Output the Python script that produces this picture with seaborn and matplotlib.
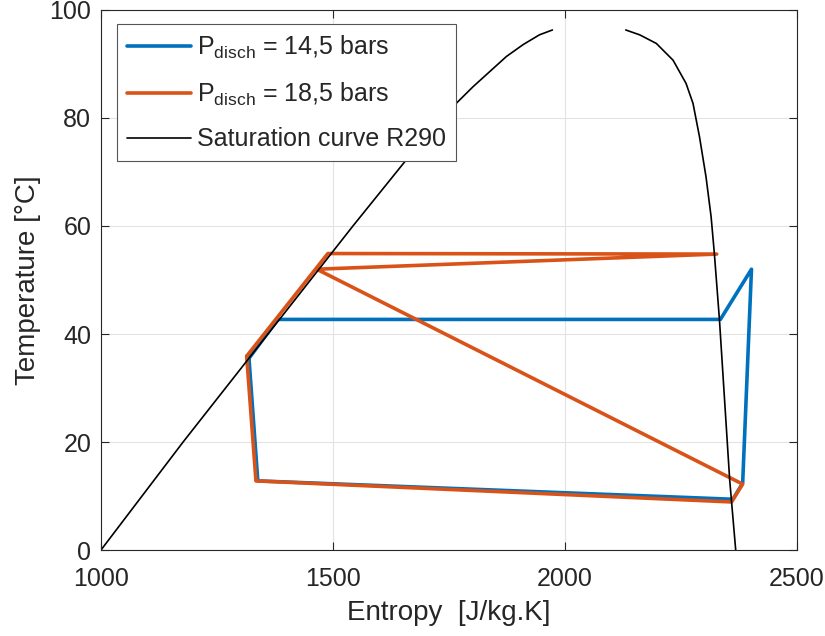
import numpy as np
import pandas as pd
import matplotlib
matplotlib.use("Agg")
import matplotlib.pyplot as plt
import seaborn as sns

# Cycle at P_disch = 14,5 bars (entropy J/kg.K, temperature °C)
s_145 = [1319, 1338, 2362, 2383, 2402, 2335, 1381, 1319]
t_145 = [35.5, 12.8, 9.4, 12.4, 52.0, 42.7, 42.7, 35.5]

# Cycle at P_disch = 18,5 bars
s_185 = [1314, 1334, 2359, 2383, 1465, 2327, 1489, 1314]
t_185 = [35.9, 12.8, 8.9, 12.2, 52.0, 54.8, 54.9, 35.9]

# Saturation curve R290 (liquid branch, vapour branch)
s_liq = [1000, 1177, 1360, 1543, 1666, 1739, 1762, 1802, 1838, 1874, 1910, 1945, 1973]
t_liq = [0.0, 20.0, 40.0, 60.0, 73.1, 80.0, 82.4, 85.8, 88.6, 91.4, 93.6, 95.4, 96.3]
s_vap = [2131, 2161, 2197, 2233, 2261, 2276, 2290, 2304, 2315, 2322, 2333, 2344, 2355, 2368]
t_vap = [96.3, 95.4, 93.8, 90.7, 86.4, 82.7, 76.5, 69.1, 61.7, 54.9, 42.6, 27.8, 13.0, 0.0]

labels = [r"P$_{\mathrm{disch}}$ = 14,5 bars",
          r"P$_{\mathrm{disch}}$ = 18,5 bars",
          "Saturation curve R290"]

sns.set_theme(style="whitegrid")
plt.rcParams["font.family"] = ["Liberation Sans", "DejaVu Sans"]
plt.rcParams["mathtext.fontset"] = "custom"
plt.rcParams["mathtext.rm"] = "Liberation Sans"
plt.rcParams["mathtext.default"] = "regular"

fig = plt.figure(figsize=(8.25, 6.36), dpi=100)
ax = fig.add_axes([0.1224, 0.1352, 0.8436, 0.8491])

df1 = pd.DataFrame({"s": s_145, "t": t_145})
df2 = pd.DataFrame({"s": s_185, "t": t_185})
dl = pd.DataFrame({"s": s_liq, "t": t_liq})
dv = pd.DataFrame({"s": s_vap, "t": t_vap})

blue = "#0072BD"
orange = "#D95319"

sns.lineplot(data=df1, x="s", y="t", sort=False, estimator=None, color=blue,
             linewidth=2.6, ax=ax, label=labels[0])
sns.lineplot(data=df2, x="s", y="t", sort=False, estimator=None, color=orange,
             linewidth=2.6, ax=ax, label=labels[1])
sns.lineplot(data=dl, x="s", y="t", sort=False, estimator=None, color="black",
             linewidth=1.2, ax=ax, label=labels[2])
sns.lineplot(data=dv, x="s", y="t", sort=False, estimator=None, color="black",
             linewidth=1.2, ax=ax)

ax.set_xlim(1000, 2500)
ax.set_ylim(0, 100)
ax.set_xticks([1000, 1500, 2000, 2500])
ax.set_yticks([0, 20, 40, 60, 80, 100])
ax.set_xlabel("Entropy  [J/kg.K]", fontsize=20, color="#262626", labelpad=7)
ax.set_ylabel("Temperature [°C]", fontsize=20, color="#262626", labelpad=6)
ax.tick_params(axis="x", pad=12)
ax.tick_params(axis="y", pad=7)
ax.tick_params(axis="both", labelsize=18, colors="#262626", direction="in",
               length=6, width=0.8, left=True, bottom=True, top=True, right=True)
ax.grid(True, color="#e3e3e3", linewidth=0.8)
for sp in ax.spines.values():
    sp.set_color("#262626")
    sp.set_linewidth(0.8)
ax.set_facecolor("white")

leg = ax.legend(loc="upper left", bbox_to_anchor=(0.023, 0.974), borderaxespad=0,
                fontsize=18, handlelength=2.55, handletextpad=0.25, borderpad=0.4,
                labelspacing=0.78, frameon=True, fancybox=False, framealpha=1)
leg.get_frame().set_edgecolor("#555555")
leg.get_frame().set_linewidth(0.8)

fig.savefig("out.png", dpi=100, facecolor="white")
